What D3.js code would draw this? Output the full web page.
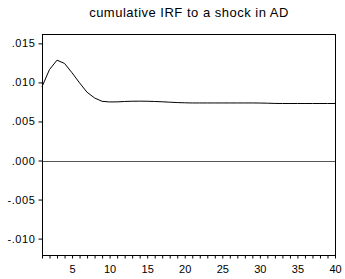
<!DOCTYPE html>
<html>
<head>
<meta charset="utf-8">
<script src="https://cdn.jsdelivr.net/npm/d3@7"></script>
<style>
  body { margin: 0; background: #fff; }
  text { font-family: "Liberation Sans", Arial, sans-serif; fill: #000; }
</style>
</head>
<body>
<div id="chart"></div>
<script>
// periods 1..40
var periods = d3.range(1, 41);
// cumulative IRF values
var irf = [
  0.00945, 0.01165, 0.01285, 0.01243, 0.01123, 0.00994, 0.00874, 0.00801, 0.00758, 0.00750,
  0.00751, 0.00756, 0.00759, 0.00760, 0.00759, 0.00756, 0.00752, 0.00747, 0.00742, 0.00739,
  0.00737, 0.00737, 0.00737, 0.00737, 0.00737, 0.00737, 0.00737, 0.00737, 0.00737, 0.00736,
  0.00734, 0.00731, 0.00730, 0.00730, 0.00730, 0.00730, 0.00730, 0.00730, 0.00730, 0.00730
];
var yTicks = [0.015, 0.010, 0.005, 0.000, -0.005, -0.010];
var yTickLabels = [".015", ".010", ".005", ".000", "-.005", "-.010"];
var xTickLabels = [5, 10, 15, 20, 25, 30, 35, 40];
var title = "cumulative IRF to a shock in AD";

var W = 345, H = 279;
var margin = {top: 34, right: 10, bottom: 24, left: 42};

var svg = d3.select("#chart").append("svg")
  .attr("width", W)
  .attr("height", H);

var x = d3.scaleLinear().domain([1, 40]).range([margin.left, W - margin.right]);
var y = d3.scaleLinear().domain([-0.0121, 0.0162]).range([H - margin.bottom, margin.top]);

// title
svg.append("text")
  .attr("x", 189)
  .attr("y", 17)
  .attr("text-anchor", "middle")
  .style("font-size", "13px")
  .style("letter-spacing", "0.5px")
  .text(title);

// zero line
svg.append("line")
  .attr("x1", x(1)).attr("x2", x(40))
  .attr("y1", Math.round(y(0)) + 0.5).attr("y2", Math.round(y(0)) + 0.5)
  .attr("stroke", "#555")
  .attr("stroke-width", 1);

// the curve
var line = d3.line()
  .x(function(d, i) { return x(periods[i]); })
  .y(function(d) { return y(d); });

svg.append("path")
  .datum(irf)
  .attr("d", line)
  .attr("fill", "none")
  .attr("stroke", "#000")
  .attr("stroke-width", 1);

// frame
svg.append("rect")
  .attr("x", x(1) + 0.5)
  .attr("y", y.range()[1] + 0.5)
  .attr("width", x(40) - x(1))
  .attr("height", y.range()[0] - y.range()[1])
  .attr("fill", "none")
  .attr("stroke", "#000")
  .attr("stroke-width", 1);

// y axis
var yAxis = d3.axisLeft(y)
  .tickValues(yTicks)
  .tickSize(4)
  .tickPadding(3)
  .tickFormat(function(d, i) { return yTickLabels[i]; });

var gy = svg.append("g")
  .attr("transform", "translate(" + (x(1) + 0.5) + ",0)")
  .call(yAxis);
gy.select(".domain").remove();
gy.selectAll("text").style("font-size", "11px").style("letter-spacing", "0.6px").style("font-family", "Liberation Sans, Arial, sans-serif");

// x axis: minor ticks every period, labels every 5
var xAxis = d3.axisBottom(x)
  .tickValues(periods)
  .tickSize(3)
  .tickPadding(7)
  .tickFormat(function(d) { return xTickLabels.indexOf(d) >= 0 ? d : ""; });

var gx = svg.append("g")
  .attr("transform", "translate(0," + (y.range()[0] + 0.5) + ")")
  .call(xAxis);
gx.select(".domain").remove();
gx.selectAll("text").style("font-size", "11px").style("font-family", "Liberation Sans, Arial, sans-serif");
</script>
</body>
</html>
